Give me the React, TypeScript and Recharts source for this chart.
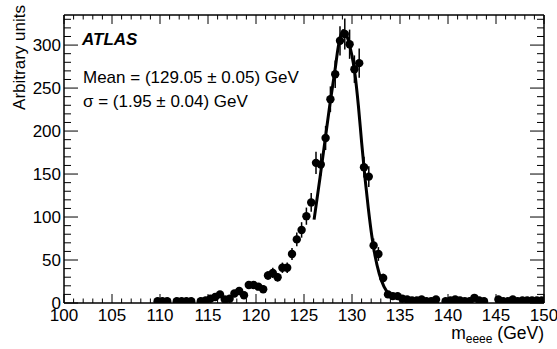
import React from 'react';
import { ComposedChart, Scatter, Line, XAxis, YAxis, ErrorBar } from 'recharts';

// bin centres (GeV), 0.5 GeV bins
const massBins = [
    109.75, 110.25, 110.75, 111.25, 111.75, 112.25, 112.75, 113.25, 113.75,
    114.25, 114.75, 115.25, 115.75, 116.25, 116.75, 117.25, 117.75, 118.25,
    118.75, 119.25, 119.75, 120.25, 120.75, 121.25, 121.75, 122.25, 122.75,
    123.25, 123.75, 124.25, 124.75, 125.25, 125.75, 126.25, 126.75, 127.25,
    127.75, 128.25, 128.75, 129.25, 129.75, 130.25, 130.75, 131.25, 131.75,
    132.25, 132.75, 133.25, 133.75, 134.25, 134.75, 135.25, 135.75, 136.25,
    136.75, 137.25, 137.75, 138.25, 138.75, 139.25, 139.75, 140.25, 140.75,
    141.25, 141.75, 142.25, 142.75, 143.25, 143.75, 144.25, 144.75, 145.25,
    145.75, 146.25, 146.75, 147.25, 147.75, 148.25, 148.75, 149.25, 149.75,
];

const counts = [
    2, 2, 2, null, 2, 2, 2, 2, null,
    2, 3, 5, 7, 10, 4, 5, 11, 14,
    9, 21, 21, 19, 16, 32, 35, 30, 41,
    41, 57, 74, 85, 101, 117, 163, 161, 192,
    237, 266, 305, 313, 301, 272, 279, 158, 147,
    67, 57, 29, 10, 8, 8, 5, 4, 3,
    3, 4, 2, 2, 4, null, 2, 3, 4,
    3, 2, 2, 6, 3, 2, null, null, 4,
    2, 2, 4, 2, 3, 3, 3, 3, 3,
];

const errors = [
    1.5, 1.5, 1.5, null, 1.5, 1.5, 1.5, 1.5, null,
    1.5, 2, 2, 3, 3, 2, 2, 3, 4,
    3, 4, 4, 4, 4, 5, 6, 5, 6,
    6, 7, 8, 9, 10, 11, 13, 13, 14,
    15, 16, 17, 18, 17, 16, 17, 12, 12,
    8, 8, 5, 3, 3, 3, 2, 2, 2,
    2, 2, 2, 2, 2, null, 2, 2, 2,
    2, 2, 2, 2, 2, 2, null, null, 2,
    2, 2, 2, 2, 2, 2, 2, 2, 2,
];

// fitted curve
const fitMass = [
    126.05, 126.67, 127.19, 127.71, 128.23, 128.57, 128.85, 129.1, 129.45,
    129.79, 130.14, 130.31, 130.66, 131.01, 131.35, 131.7, 132.05, 132.4,
    132.84, 133.33, 133.96,
];
const fitValues = [
    97, 146, 189, 232, 271, 298, 312, 317, 311,
    298, 279, 266, 230, 186, 146, 110, 79, 55,
    34, 19, 9,
];

const xMajorTicks = [100, 105, 110, 115, 120, 125, 130, 135, 140, 145, 150];
const yMajorTicks = [0, 50, 100, 150, 200, 250, 300];

const xTicks = Array.from({ length: 51 }, (_, i) => 100 + i);
const yTicks = Array.from({ length: 34 }, (_, i) => i * 10);

const FONT = '"Liberation Sans", Arial, Helvetica, sans-serif';

const points = massBins
    .map((m, i) => ({ x: m, y: counts[i], err: errors[i] }))
    .filter((p) => p.y !== null);

const fitData = fitMass.map((m, i) => ({ x: m, y: fitValues[i] }));

const BottomTick = (props: any) => {
    const { x, y, payload } = props;
    const major = xMajorTicks.includes(payload.value);
    return (
        <g>
            <line x1={x} x2={x} y1={y} y2={y - (major ? 9 : 4.5)} stroke="#000" />
            {major && (
                <text x={x} y={y + 17.5} textAnchor="middle" fontSize={17} fontFamily={FONT} fill="#000">
                    {payload.value}
                </text>
            )}
        </g>
    );
};

const TopTick = (props: any) => {
    const { x, y, payload } = props;
    const major = xMajorTicks.includes(payload.value);
    return <line x1={x} x2={x} y1={y} y2={y + (major ? 9 : 4.5)} stroke="#000" />;
};

const LeftTick = (props: any) => {
    const { x, y, payload } = props;
    const major = yMajorTicks.includes(payload.value);
    return (
        <g>
            <line x1={x} x2={x + (major ? 14 : 7)} y1={y} y2={y} stroke="#000" />
            {major && (
                <text x={x - 3} y={y} dy="0.36em" textAnchor="end" fontSize={17} fontFamily={FONT} fill="#000">
                    {payload.value}
                </text>
            )}
        </g>
    );
};

const RightTick = (props: any) => {
    const { x, y, payload } = props;
    const major = yMajorTicks.includes(payload.value);
    return <line x1={x} x2={x - (major ? 14 : 7)} y1={y} y2={y} stroke="#000" />;
};

const Dot = (props: any) => {
    const { cx, cy } = props;
    return <circle cx={cx} cy={cy} r={4.2} fill="#000" />;
};

export default function App() {
    return (
        <div style={{ position: 'absolute', left: 0, top: 0, width: 557, height: 349, background: '#fff' }}>
            <ComposedChart width={557} height={349} margin={{ top: 0, right: 0, bottom: 0, left: 0 }}>
                <XAxis
                    xAxisId="bottom"
                    dataKey="x"
                    type="number"
                    domain={[100, 150]}
                    allowDataOverflow
                    ticks={xTicks}
                    interval={0}
                    height={46}
                    tickSize={0}
                    tickMargin={0}
                    tickLine={false}
                    tick={<BottomTick />}
                    axisLine={{ stroke: '#000', strokeWidth: 1.5 }}
                />
                <XAxis
                    xAxisId="top"
                    orientation="top"
                    dataKey="x"
                    type="number"
                    domain={[100, 150]}
                    allowDataOverflow
                    ticks={xTicks}
                    interval={0}
                    height={15}
                    tickSize={0}
                    tickMargin={0}
                    tickLine={false}
                    tick={<TopTick />}
                    axisLine={{ stroke: '#000', strokeWidth: 1.5 }}
                />
                <YAxis
                    yAxisId="left"
                    type="number"
                    domain={[0, 335]}
                    allowDataOverflow
                    ticks={yTicks}
                    interval={0}
                    width={64}
                    tickSize={0}
                    tickMargin={0}
                    tickLine={false}
                    tick={<LeftTick />}
                    axisLine={{ stroke: '#000', strokeWidth: 1.5 }}
                />
                <YAxis
                    yAxisId="right"
                    orientation="right"
                    type="number"
                    domain={[0, 335]}
                    allowDataOverflow
                    ticks={yTicks}
                    interval={0}
                    width={13}
                    tickSize={0}
                    tickMargin={0}
                    tickLine={false}
                    tick={<RightTick />}
                    axisLine={{ stroke: '#000', strokeWidth: 1.5 }}
                />
                <Scatter
                    data={points}
                    dataKey="y"
                    xAxisId="bottom"
                    yAxisId="left"
                    shape={<Dot />}
                    isAnimationActive={false}
                >
                    <ErrorBar dataKey="err" direction="y" width={0} stroke="#000" strokeWidth={1.5} isAnimationActive={false} />
                </Scatter>
                <Line
                    data={fitData}
                    dataKey="y"
                    xAxisId="bottom"
                    yAxisId="left"
                    type="monotone"
                    dot={false}
                    stroke="#000"
                    strokeWidth={3}
                    isAnimationActive={false}
                />
            </ComposedChart>
            <svg
                width={557}
                height={349}
                style={{ position: 'absolute', left: 0, top: 0, pointerEvents: 'none' }}
                fontFamily={FONT}
            >
                <text x={82} y={45} fontSize={17} fontWeight="bold" fontStyle="italic" fill="#000">
                    ATLAS
                </text>
                <text x={83} y={83} fontSize={17} fill="#000">
                    Mean = (129.05 ± 0.05) GeV
                </text>
                <text x={83} y={107} fontSize={17} fill="#000">
                    σ = (1.95 ± 0.04) GeV
                </text>
                <text transform="translate(25,5) rotate(-90)" textAnchor="end" fontSize={17} fill="#000">
                    Arbitrary units
                </text>
                <text x={544} y={339} textAnchor="end" fontSize={17.5} fill="#000">
                    m
                    <tspan fontSize={12} dy={4}>eeee</tspan>
                    <tspan dy={-4}> (GeV)</tspan>
                </text>
            </svg>
        </div>
    );
}
